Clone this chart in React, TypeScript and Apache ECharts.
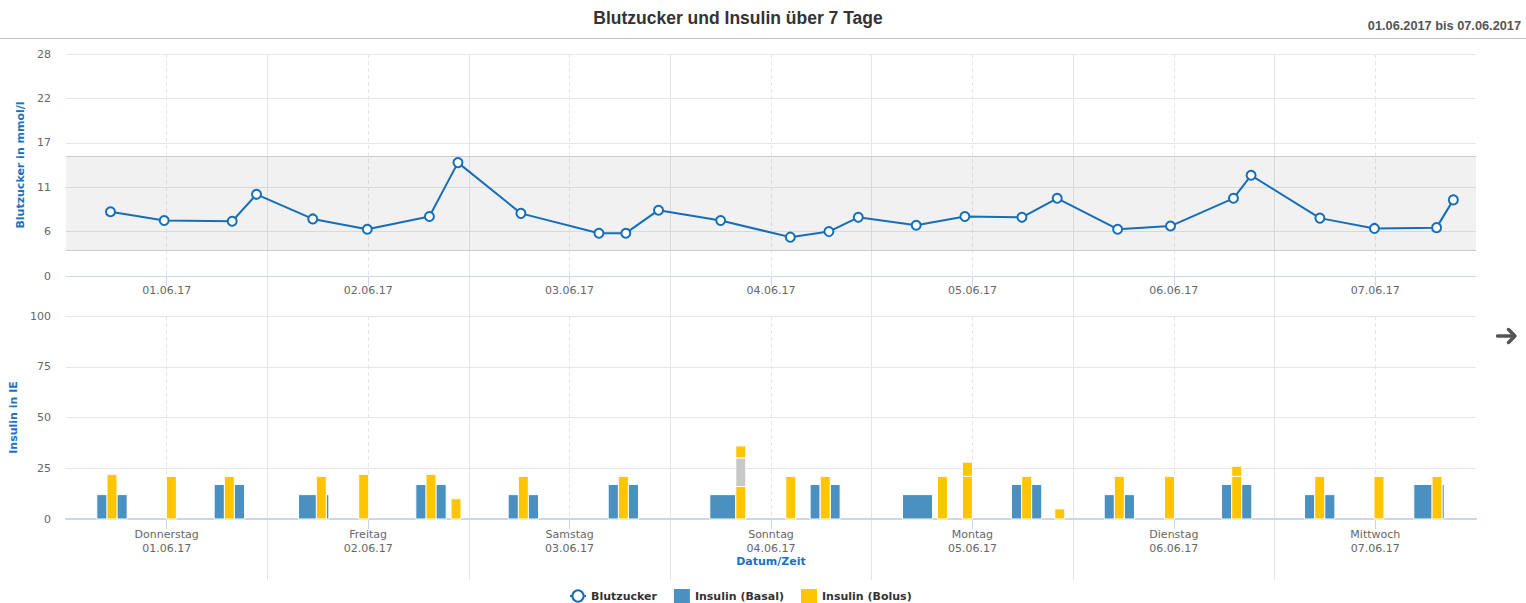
import React, { useEffect, useRef } from 'react';
import * as echarts from 'echarts';

// ---- categories / tick labels ----
const dayNames = ['Donnerstag', 'Freitag', 'Samstag', 'Sonntag', 'Montag', 'Dienstag', 'Mittwoch'];
const dateLabels = ['01.06.17', '02.06.17', '03.06.17', '04.06.17', '05.06.17', '06.06.17', '07.06.17'];

// ---- Blutzucker: hours since 01.06.2017 00:00 and mmol/l ----
const bgHours = [5.3, 11.7, 19.8, 22.7, 29.4, 35.9, 43.3, 46.7, 54.2, 63.5, 66.7, 70.6, 78.0, 86.3, 90.9, 94.4, 101.3, 107.1, 113.9, 118.1, 125.3, 131.6, 139.1, 141.2, 149.4, 155.9, 163.3, 165.3];
const bgValues = [8.1, 7.0, 6.9, 10.3, 7.2, 5.9, 7.5, 14.3, 7.9, 5.4, 5.4, 8.3, 7.0, 4.9, 5.6, 7.4, 6.4, 7.5, 7.4, 9.8, 5.9, 6.3, 9.8, 12.7, 7.3, 6.0, 6.1, 9.6];
const targetRange = [3.2, 15.1];

// ---- Insulin (Basal): [start hour, end hour, IE] ----
const basalDoses: number[][] = [
  [3.73, 4.85, 12], [6.12, 7.23, 12], [17.71, 18.83, 17], [20.1, 21.21, 17],
  [27.76, 29.79, 12], [31.06, 31.26, 12], [41.74, 42.86, 17], [44.12, 45.24, 17],
  [52.74, 53.89, 12], [55.13, 56.24, 12], [64.66, 65.77, 17], [67.05, 68.15, 17],
  [76.77, 79.75, 12], [88.72, 89.79, 17], [91.11, 92.18, 17],
  [99.73, 103.18, 12], [112.71, 113.82, 17], [115.1, 116.2, 17],
  [123.76, 124.87, 12], [126.14, 127.25, 12], [137.74, 138.85, 17], [140.12, 141.23, 17],
  [147.63, 148.74, 12], [150.02, 151.13, 12], [160.65, 162.72, 17], [163.99, 164.15, 17],
];

// ---- Insulin (Bolus): [hour, IE] ----
const bolusDoses: number[][] = [
  [5.48, 22], [12.55, 21], [19.46, 21], [30.42, 21], [35.47, 22], [43.49, 22], [46.47, 10],
  [54.49, 21], [66.41, 21], [80.4, 16], [86.36, 21], [90.46, 21], [104.43, 21], [107.4, 21],
  [114.46, 21], [118.41, 5], [125.5, 21], [131.48, 21], [139.49, 21], [149.38, 21], [156.44, 21], [163.36, 21],
];
// other insulin stacked on bolus (grey)
const otherDoses: number[][] = [[80.4, 14]];
// extra bolus stacked on top
const bolusTopUps: number[][] = [[80.4, 6], [107.4, 7], [139.49, 5]];

// ---- styles ----
const FONT = 'DejaVu Sans, Verdana, sans-serif';
const TITLE_FONT = 'Liberation Sans, Arial, sans-serif';
const LABEL_COLOR = '#666666';
const GRID_COLOR = '#e6e6e6';
const DAY_LINE_COLOR = '#e2e5ea';
const AXIS_BLUE = '#ccd6eb';
const NAME_BLUE = '#1a73c0';
const LINE_BLUE = '#166eb8';
const BASAL = '#4a91c2';
const BOLUS = '#ffc600';
const OTHER = '#c8c8c8';
const BOLUS_PX = 10;

const sumAt = (h: number, lists: number[][][]) =>
  lists.reduce((s, l) => s + l.filter((d) => d[0] === h).reduce((a, d) => a + d[1], 0), 0);

const bolusRects = [
  ...bolusDoses.map(([h, u]) => [h, 0, u]),
  ...bolusTopUps.map(([h, u]) => {
    const b = sumAt(h, [bolusDoses, otherDoses]);
    return [h, b, b + u];
  }),
];
const otherRects = otherDoses.map(([h, u]) => {
  const b = sumAt(h, [bolusDoses]);
  return [h, b, b + u];
});
const basalRects = basalDoses.map(([s, e, u]) => [s, e, 0, u]);

const intervalRender = (color: string) => (params: any, api: any) => {
  const p0 = api.coord([api.value(0), api.value(3)]);
  const p1 = api.coord([api.value(1), api.value(2)]);
  return {
    type: 'rect',
    shape: { x: p0[0] - 0.5, y: p0[1], width: p1[0] - p0[0] + 1, height: p1[1] - p0[1] },
    style: { fill: color, stroke: '#ffffff', lineWidth: 1 },
  };
};
const pointRender = (color: string) => (params: any, api: any) => {
  const top = api.coord([api.value(0), api.value(2)]);
  const bottom = api.coord([api.value(0), api.value(1)]);
  return {
    type: 'rect',
    shape: { x: top[0] - BOLUS_PX / 2, y: top[1], width: BOLUS_PX, height: bottom[1] - top[1] },
    style: { fill: color, stroke: '#ffffff', lineWidth: 1 },
  };
};

const hourBase = { type: 'value', min: 0, max: 168, position: 'bottom' };

const mainAxis = (gridIndex: number, lineWidth: number) => ({
  ...hourBase,
  gridIndex,
  interval: 24,
  axisLine: { show: true, lineStyle: { color: AXIS_BLUE, width: lineWidth } },
  axisTick: { show: false },
  minorTick: { show: true, splitNumber: 2, length: 10, lineStyle: { color: AXIS_BLUE, width: 1 } },
  axisLabel: { show: false },
  splitLine: { show: false },
  minorSplitLine: { show: true, lineStyle: { color: GRID_COLOR, width: 1, type: [4, 3] } },
});

export default function App() {
  const ref = useRef<HTMLDivElement>(null);
  useEffect(() => {
    if (!ref.current) return;
    const chart = echarts.init(ref.current, undefined, { renderer: 'svg' });
    const option: any = {
      animation: false,
      textStyle: { fontFamily: FONT },
      title: [
        {
          text: 'Blutzucker und Insulin über 7 Tage',
          left: 738,
          top: 9,
          padding: 0,
          textAlign: 'center',
          textStyle: { fontSize: 17.5, fontWeight: 'bold', color: '#333333', fontFamily: TITLE_FONT },
        },
        {
          text: '01.06.2017 bis 07.06.2017',
          right: 5,
          top: 19,
          padding: 0,
          textStyle: { fontSize: 12.75, fontWeight: 'bold', color: '#555555', fontFamily: TITLE_FONT },
        },
      ],
      legend: {
        left: 569,
        top: 589,
        padding: 0,
        itemWidth: 16,
        itemHeight: 14,
        itemGap: 17,
        textStyle: { fontFamily: FONT, fontWeight: 'bold', fontSize: 11, color: '#333333' },
        data: [
          { name: 'Blutzucker' },
          { name: 'Insulin (Basal)', icon: 'rect' },
          { name: 'Insulin (Bolus)', icon: 'rect' },
        ],
      },
      graphic: [
        { type: 'line', shape: { x1: 0, y1: 38.5, x2: 1526, y2: 38.5 }, style: { stroke: '#c4c4c4', lineWidth: 1.2 } },
        {
          type: 'polyline',
          shape: { points: [[1497.5, 336], [1514, 336]] },
          style: { stroke: '#555555', lineWidth: 3.5, lineCap: 'round', fill: null },
        },
        {
          type: 'polyline',
          shape: { points: [[1508.5, 329.5], [1515, 336], [1508.5, 342.5]] },
          style: { stroke: '#555555', lineWidth: 3.5, lineCap: 'round', lineJoin: 'round', fill: null },
        },
      ],
      grid: [
        { left: 66, right: 50, top: 54, height: 222 },
        { left: 66, right: 50, top: 316, height: 203 },
        { left: 66, right: 50, top: 54, height: 526 },
      ],
      xAxis: [
        mainAxis(0, 1),
        {
          ...hourBase,
          gridIndex: 0,
          interval: 12,
          axisLine: { show: false },
          axisTick: { show: false },
          splitLine: { show: false },
          axisLabel: {
            formatter: (v: number) => (v % 24 === 12 ? dateLabels[Math.floor(v / 24)] : ''),
            color: LABEL_COLOR,
            fontSize: 11,
            fontFamily: FONT,
            margin: 9,
          },
        },
        mainAxis(1, 2),
        {
          ...hourBase,
          gridIndex: 1,
          interval: 12,
          axisLine: { show: false },
          axisTick: { show: false },
          splitLine: { show: false },
          name: 'Datum/Zeit',
          nameLocation: 'middle',
          nameGap: 37,
          nameTextStyle: { color: NAME_BLUE, fontWeight: 'bold', fontSize: 11, fontFamily: FONT },
          axisLabel: {
            formatter: (v: number) => {
              if (v % 24 !== 12) return '';
              const i = Math.floor(v / 24);
              return dayNames[i] + '\n' + dateLabels[i];
            },
            color: LABEL_COLOR,
            fontSize: 11,
            lineHeight: 14,
            fontFamily: FONT,
            margin: 8,
          },
        },
        {
          ...hourBase,
          gridIndex: 2,
          interval: 24,
          axisLine: { show: false },
          axisTick: { show: false },
          axisLabel: { show: false },
          splitLine: { show: true, showMinLine: false, showMaxLine: false, lineStyle: { color: DAY_LINE_COLOR, width: 1 } },
        },
      ],
      yAxis: [
        {
          type: 'value',
          gridIndex: 0,
          min: 0,
          max: 28,
          interval: 5.6,
          name: 'Blutzucker in mmol/l',
          nameLocation: 'middle',
          nameGap: 35,
          nameTextStyle: { color: NAME_BLUE, fontWeight: 'bold', fontSize: 11, fontFamily: FONT },
          axisLine: { show: false },
          axisTick: { show: false },
          axisLabel: { formatter: (v: number) => String(Math.round(v)), color: LABEL_COLOR, fontSize: 11, margin: 15 },
          splitLine: { lineStyle: { color: GRID_COLOR } },
        },
        {
          type: 'value',
          gridIndex: 1,
          min: 0,
          max: 100,
          interval: 25,
          name: 'Insulin in IE',
          nameLocation: 'middle',
          nameGap: 40,
          nameTextStyle: { color: NAME_BLUE, fontWeight: 'bold', fontSize: 11, fontFamily: FONT },
          axisLine: { show: false },
          axisTick: { show: false },
          axisLabel: { color: LABEL_COLOR, fontSize: 11, margin: 15 },
          splitLine: { lineStyle: { color: GRID_COLOR } },
        },
        { type: 'value', gridIndex: 2, min: 0, max: 1, show: false },
      ],
      series: [
        {
          name: 'Blutzucker',
          type: 'line',
          xAxisIndex: 0,
          yAxisIndex: 0,
          data: bgHours.map((h, i) => [h, bgValues[i]]),
          symbol: 'emptyCircle',
          symbolSize: 9,
          showAllSymbol: true,
          itemStyle: { color: LINE_BLUE, borderWidth: 2 },
          lineStyle: { color: LINE_BLUE, width: 2 },
          z: 5,
          markArea: {
            silent: true,
            itemStyle: { color: 'rgba(0,0,0,0.055)' },
            data: [[{ yAxis: targetRange[0] }, { yAxis: targetRange[1] }]],
          },
          markLine: {
            silent: true,
            symbol: ['none', 'none'],
            label: { show: false },
            lineStyle: { color: '#cccccc', type: 'solid', width: 1 },
            data: [{ yAxis: targetRange[0] }, { yAxis: targetRange[1] }],
          },
        },
        {
          name: 'Insulin (Basal)',
          type: 'custom',
          xAxisIndex: 2,
          yAxisIndex: 1,
          itemStyle: { color: BASAL },
          encode: { x: [0, 1], y: [2, 3] },
          data: basalRects,
          renderItem: intervalRender(BASAL),
        },
        {
          name: 'Insulin (Bolus)',
          type: 'custom',
          xAxisIndex: 2,
          yAxisIndex: 1,
          itemStyle: { color: BOLUS },
          encode: { x: 0, y: [1, 2] },
          data: bolusRects,
          renderItem: pointRender(BOLUS),
        },
        {
          name: 'Insulin (sonstige)',
          type: 'custom',
          xAxisIndex: 2,
          yAxisIndex: 1,
          itemStyle: { color: OTHER },
          encode: { x: 0, y: [1, 2] },
          data: otherRects,
          renderItem: pointRender(OTHER),
        },
      ],
    };
    chart.setOption(option);
    return () => chart.dispose();
  }, []);
  return (
    <div
      ref={ref}
      style={{ position: 'absolute', left: 0, top: 0, width: 1526, height: 603, background: '#ffffff' }}
    />
  );
}
